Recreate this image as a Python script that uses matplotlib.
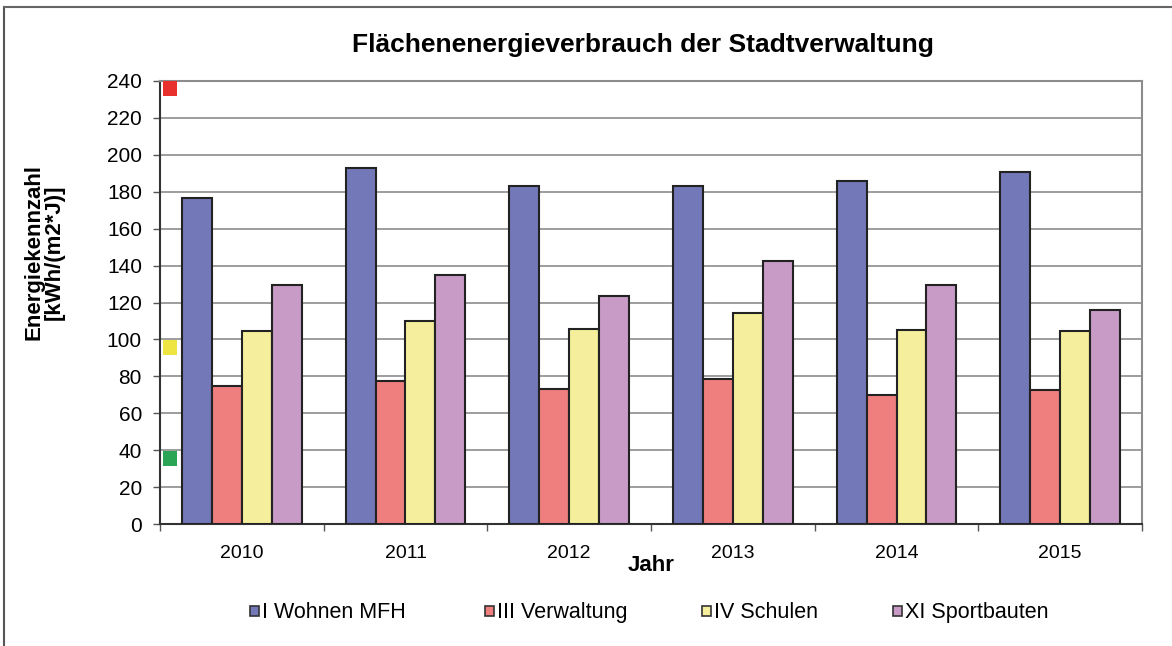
import numpy as np
import matplotlib.pyplot as plt
from matplotlib.patches import Rectangle
from matplotlib.lines import Line2D

plt.rcParams["font.family"] = ["Liberation Sans", "DejaVu Sans"]

# ── DATA ──────────────────────────────────────────────────────────────────────
years = ["2010", "2011", "2012", "2013", "2014", "2015"]
series_names = ["I Wohnen MFH", "III Verwaltung", "IV Schulen", "XI Sportbauten"]
wohnen = [176.6, 192.8, 183.0, 183.0, 185.8, 190.7]
verwaltung = [75.0, 77.5, 73.1, 78.5, 69.9, 72.6]
schulen = [104.5, 110.0, 105.6, 114.3, 105.0, 104.5]
sport = [129.5, 135.0, 123.5, 142.5, 129.5, 115.9]

# reference markers on the y axis
ref_values = [236, 95.5, 35.5]
ref_colors = ["#e8312c", "#eee442", "#2aa556"]

colors = ["#7378b8", "#ef7f7e", "#f5ee9c", "#c89bc6"]

W, H = 1172, 646

# ── PLOT ──────────────────────────────────────────────────────────────────────
fig = plt.figure(figsize=(W / 100, H / 100), dpi=100)
ax = fig.add_axes([160 / W, 1 - 524 / H, 982 / W, 443 / H])

x = np.arange(len(years))
w = 0.183
for i, vals in enumerate([wohnen, verwaltung, schulen, sport]):
    ax.bar(x + (i - 1.5) * w, vals, width=w, color=colors[i],
           edgecolor="#222222", linewidth=1.5, zorder=3)

ax.scatter([-0.439] * 3, ref_values, marker="s", s=115, c=ref_colors,
           edgecolors="none", zorder=4, clip_on=False)

ax.set_xlim(-0.5, len(years) - 0.5)
ax.set_ylim(0, 240)
ax.set_yticks(np.arange(0, 241, 20))
ax.set_xticks(x)
ax.set_xticklabels(years)
ax.set_xticks(np.arange(-0.5, len(years), 1), minor=True)
ax.tick_params(axis="x", which="major", length=0, labelsize=14, pad=15)
ax.tick_params(axis="x", which="minor", length=5, width=1, color="#555555")
ax.tick_params(axis="y", labelsize=15, length=5, width=1, color="#555555", pad=8)

ax.yaxis.grid(True, color="#8c8c8c", linewidth=1.2, zorder=0)
ax.set_axisbelow(True)
for side in ["top", "right"]:
    ax.spines[side].set_color("#8c8c8c")
    ax.spines[side].set_linewidth(1.5)
for side in ["left", "bottom"]:
    ax.spines[side].set_color("#333333")
    ax.spines[side].set_linewidth(1.5)

ax.set_xlabel("Jahr", fontsize=16, fontweight="bold", labelpad=-5)

fig.text(44 / W, 1 - 252 / H, "Energiekennzahl\n[kWh/(m2*J)]",
         rotation=90, ha="center", va="center", fontsize=16,
         fontweight="bold", linespacing=1.0)

fig.text(643 / W, 1 - 45 / H,
         "Flächenenergieverbrauch der Stadtverwaltung",
         ha="center", va="center", fontsize=19, fontweight="bold")

# legend drawn by hand so all labels share one baseline
legend_x = [250, 485, 702, 893]
for lx, name, c in zip(legend_x, series_names, colors):
    fig.add_artist(Rectangle((lx / W, 1 - 616 / H), 9 / W, 10 / H,
                             facecolor=c, edgecolor="#333333", linewidth=1.2,
                             transform=fig.transFigure))
    fig.text((lx + 12) / W, 1 - 618 / H, name, ha="left", va="baseline",
             fontsize=15.5)

# outer chart border (left and top edges visible)
fig.add_artist(Line2D([4 / W, 4 / W], [0, 1 - 7 / H],
                      color="#555555", linewidth=1.5))
fig.add_artist(Line2D([4 / W, 1], [1 - 7 / H, 1 - 7 / H],
                      color="#666666", linewidth=1.5))

plt.savefig("out.png", dpi=100)
